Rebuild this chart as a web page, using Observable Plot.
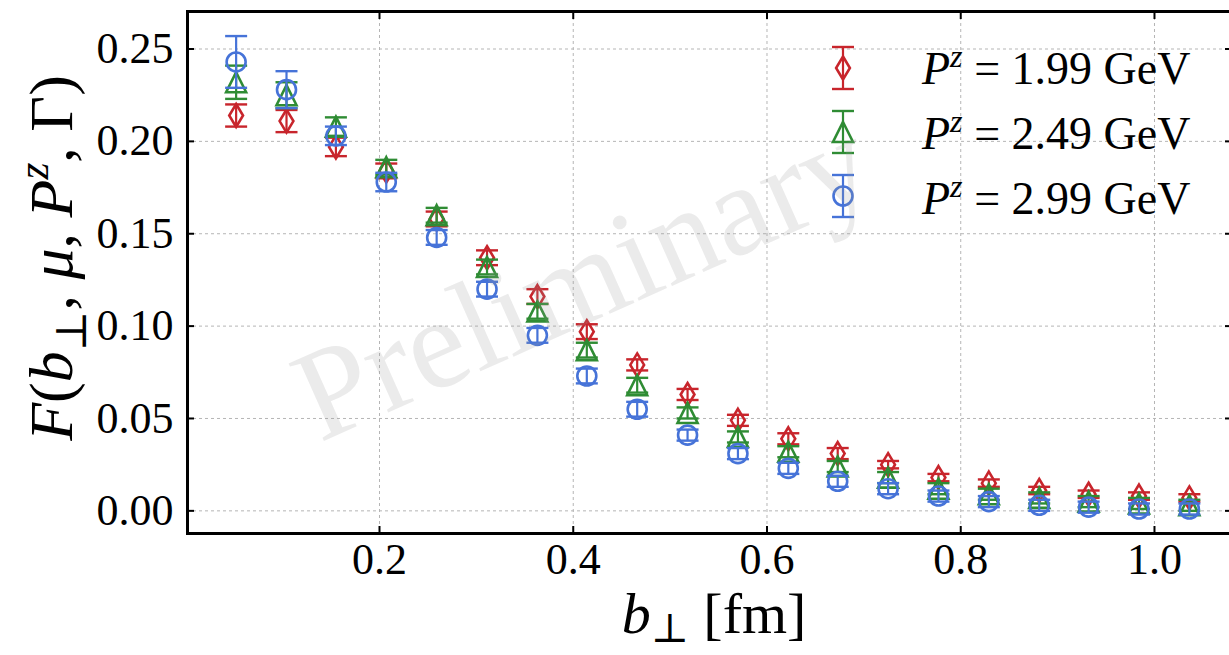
<!DOCTYPE html>
<html>
<head>
<meta charset="utf-8">
<script src="https://cdn.jsdelivr.net/npm/d3@7"></script>
<script src="https://cdn.jsdelivr.net/npm/@observablehq/plot@0.6"></script>
<style>
  html, body { margin: 0; padding: 0; background: #fff; }
  #chart svg { display: block; }
</style>
</head>
<body>
<div id="chart"></div>
<script>
// ---- data ----
const bPerp = [0.052, 0.104, 0.155, 0.207, 0.259, 0.311, 0.363, 0.414, 0.466, 0.518,
               0.570, 0.622, 0.673, 0.725, 0.777, 0.829, 0.881, 0.932, 0.984, 1.036];
const F_199 = [0.214, 0.211, 0.197, 0.184, 0.158, 0.137, 0.116, 0.097, 0.079, 0.063,
               0.049, 0.039, 0.031, 0.025, 0.018, 0.015, 0.011, 0.009, 0.008, 0.007];
const E_199 = [0.006, 0.006, 0.005, 0.004, 0.004, 0.004, 0.004, 0.004, 0.003, 0.003,
               0.003, 0.003, 0.003, 0.002, 0.002, 0.002, 0.002, 0.002, 0.002, 0.002];
const F_249 = [0.232, 0.225, 0.208, 0.186, 0.160, 0.132, 0.108, 0.087, 0.068, 0.053,
               0.040, 0.032, 0.024, 0.018, 0.012, 0.009, 0.007, 0.005, 0.004, 0.003];
const E_249 = [0.009, 0.007, 0.005, 0.004, 0.004, 0.004, 0.004, 0.004, 0.004, 0.003,
               0.003, 0.003, 0.003, 0.003, 0.003, 0.003, 0.003, 0.003, 0.003, 0.003];
const F_299 = [0.243, 0.228, 0.203, 0.178, 0.148, 0.120, 0.095, 0.073, 0.055, 0.041,
               0.031, 0.023, 0.016, 0.012, 0.008, 0.005, 0.003, 0.002, 0.001, 0.001];
const E_299 = [0.014, 0.010, 0.005, 0.005, 0.004, 0.004, 0.004, 0.004, 0.004, 0.003,
               0.003, 0.003, 0.003, 0.003, 0.003, 0.003, 0.003, 0.003, 0.003, 0.003];
const seriesPz = ["1.99", "2.49", "2.99"];
const xTicks = [0.2, 0.4, 0.6, 0.8, 1.0];
const yTicks = [0.00, 0.05, 0.10, 0.15, 0.20, 0.25];

// ---- style ----
const colors = ["#c8252c", "#2f8c34", "#4673d8"];
const FONT = "'Liberation Serif', 'DejaVu Serif', serif";

const mk = (f) => ({ draw(ctx, size) { const r = Math.sqrt(size / Math.PI); f(ctx, r); } });
const symDiamond = mk((c, r) => { c.moveTo(0, -r); c.lineTo(0.6 * r, 0); c.lineTo(0, r); c.lineTo(-0.6 * r, 0); c.closePath(); });
const symTriangle = mk((c, r) => { c.moveTo(0, -r); c.lineTo(r, r); c.lineTo(-r, r); c.closePath(); });
const symCircle = mk((c, r) => { c.moveTo(r, 0); c.arc(0, 0, r, 0, 2 * Math.PI); });
const symCap = mk((c, r) => { c.moveTo(-r, 0); c.lineTo(r, 0); });
const symbols = [symDiamond, symTriangle, symCircle];
const markerR = [11.5, 10, 9.5];

const series = [
  {pz: seriesPz[0], F: F_199, E: E_199},
  {pz: seriesPz[1], F: F_249, E: E_249},
  {pz: seriesPz[2], F: F_299, E: E_299}
];

const seriesMarks = series.flatMap((s, i) => {
  const rows = bPerp.map((b, j) => ({b, F: s.F[j], lo: s.F[j] - s.E[j], hi: s.F[j] + s.E[j]}));
  return [
    Plot.ruleX(rows, {x: "b", y1: "lo", y2: "hi", stroke: colors[i], strokeWidth: 2.2}),
    Plot.dot(rows, {x: "b", y: "lo", symbol: symCap, r: 11, stroke: colors[i], strokeWidth: 2.4, fill: "none"}),
    Plot.dot(rows, {x: "b", y: "hi", symbol: symCap, r: 11, stroke: colors[i], strokeWidth: 2.4, fill: "none"}),
    Plot.dot(rows, {x: "b", y: "F", symbol: symbols[i], r: markerR[i], stroke: colors[i], strokeWidth: 2.6, fill: "none"})
  ];
});

const gridStyle = {stroke: "#b5b5b5", strokeOpacity: 1, strokeWidth: 1, strokeDasharray: "3,3"};
const tickStyle = {tickSize: 7, strokeWidth: 2, tickFormat: () => "", label: null};

const chart = Plot.plot({
  width: 1229,
  height: 655,
  marginLeft: 187,
  marginRight: -2,
  marginTop: 11,
  marginBottom: 122,
  style: {fontFamily: FONT, color: "black", background: "white"},
  x: {domain: [0.0018, 1.0795]},
  y: {domain: [-0.01226, 0.2703]},
  marks: [
    Plot.gridX(xTicks, gridStyle),
    Plot.gridY(yTicks, gridStyle),
    ...seriesMarks,
    Plot.frame({stroke: "black", strokeWidth: 3}),
    Plot.axisX(xTicks, {anchor: "bottom", ...tickStyle, dy: -7}),
    Plot.axisX(xTicks, {anchor: "top", ...tickStyle, dy: 7}),
    Plot.axisY(yTicks, {anchor: "left", ...tickStyle, dx: 7}),
    Plot.axisY(yTicks, {anchor: "right", ...tickStyle, dx: -7}),
    Plot.axisX(xTicks, {anchor: "bottom", tickSize: 0, tickPadding: 9, fontSize: 44, tickFormat: d3.format(".1f"), label: null}),
    Plot.axisY(yTicks, {anchor: "left", tickSize: 0, tickPadding: 14, fontSize: 44, tickFormat: d3.format(".2f"), label: null})
  ]
});
document.getElementById("chart").appendChild(chart);

// ---- labels, legend, watermark ----
const svg = d3.select(chart);

function richText(g, parts, size, anchor, subShift = 0.22) {
  const t = g.append("text").attr("font-family", FONT).attr("font-size", size)
    .attr("fill", "black").attr("text-anchor", anchor);
  let shift = 0;
  for (const p of parts) {
    const ts = t.append("tspan").text(p.t);
    if (p.i) ts.attr("font-style", "italic");
    const target = p.sub ? subShift * size : p.sup ? -0.38 * size : 0;
    if (target !== shift) { ts.attr("dy", target - shift); shift = target; }
    if (p.sub || p.sup) ts.attr("font-size", size * 0.7);
  }
  return t;
}

// y label
const yl = svg.append("g").attr("transform", "translate(72,258) rotate(-90)");
richText(yl, [
  {t: "F", i: 1}, {t: "("}, {t: "b", i: 1}, {t: "⊥", sub: 1}, {t: ", "}, {t: "μ", i: 1},
  {t: ", "}, {t: "P", i: 1}, {t: "z", i: 1, sup: 1}, {t: ", "}, {t: "Γ"}, {t: ")"}
], 62, "middle");

// x label
const xl = svg.append("g").attr("transform", "translate(714,633)");
richText(xl, [{t: "b", i: 1}, {t: "⊥", sub: 1}, {t: " [fm]"}], 58, "middle", 0.16);

// legend
const legRows = [
  {cy: 68, base: 84}, {cy: 132, base: 149}, {cy: 196, base: 214}
];
series.forEach((s, i) => {
  const g = svg.append("g").attr("transform", `translate(843,${legRows[i].cy})`);
  g.append("line").attr("y1", -21).attr("y2", 21).attr("stroke", colors[i]).attr("stroke-width", 2.2);
  g.append("line").attr("x1", -11).attr("x2", 11).attr("y1", -21).attr("y2", -21).attr("stroke", colors[i]).attr("stroke-width", 2.4);
  g.append("line").attr("x1", -11).attr("x2", 11).attr("y1", 21).attr("y2", 21).attr("stroke", colors[i]).attr("stroke-width", 2.4);
  g.append("path").attr("d", d3.symbol(symbols[i], Math.PI * markerR[i] * markerR[i])())
    .attr("fill", "none").attr("stroke", colors[i]).attr("stroke-width", 2.6);
  const tg = svg.append("g").attr("transform", `translate(922,${legRows[i].base})`);
  richText(tg, [{t: "P", i: 1}, {t: "z", i: 1, sup: 1}, {t: " = " + s.pz + " GeV"}], 46, "start");
});

// watermark
svg.append("text")
  .attr("transform", "translate(600,318) rotate(-24)")
  .attr("text-anchor", "middle")
  .attr("font-family", FONT)
  .attr("font-size", 130)
  .attr("fill", "#9a9a9a")
  .attr("fill-opacity", 0.2)
  .text("Preliminary");
</script>
</body>
</html>
